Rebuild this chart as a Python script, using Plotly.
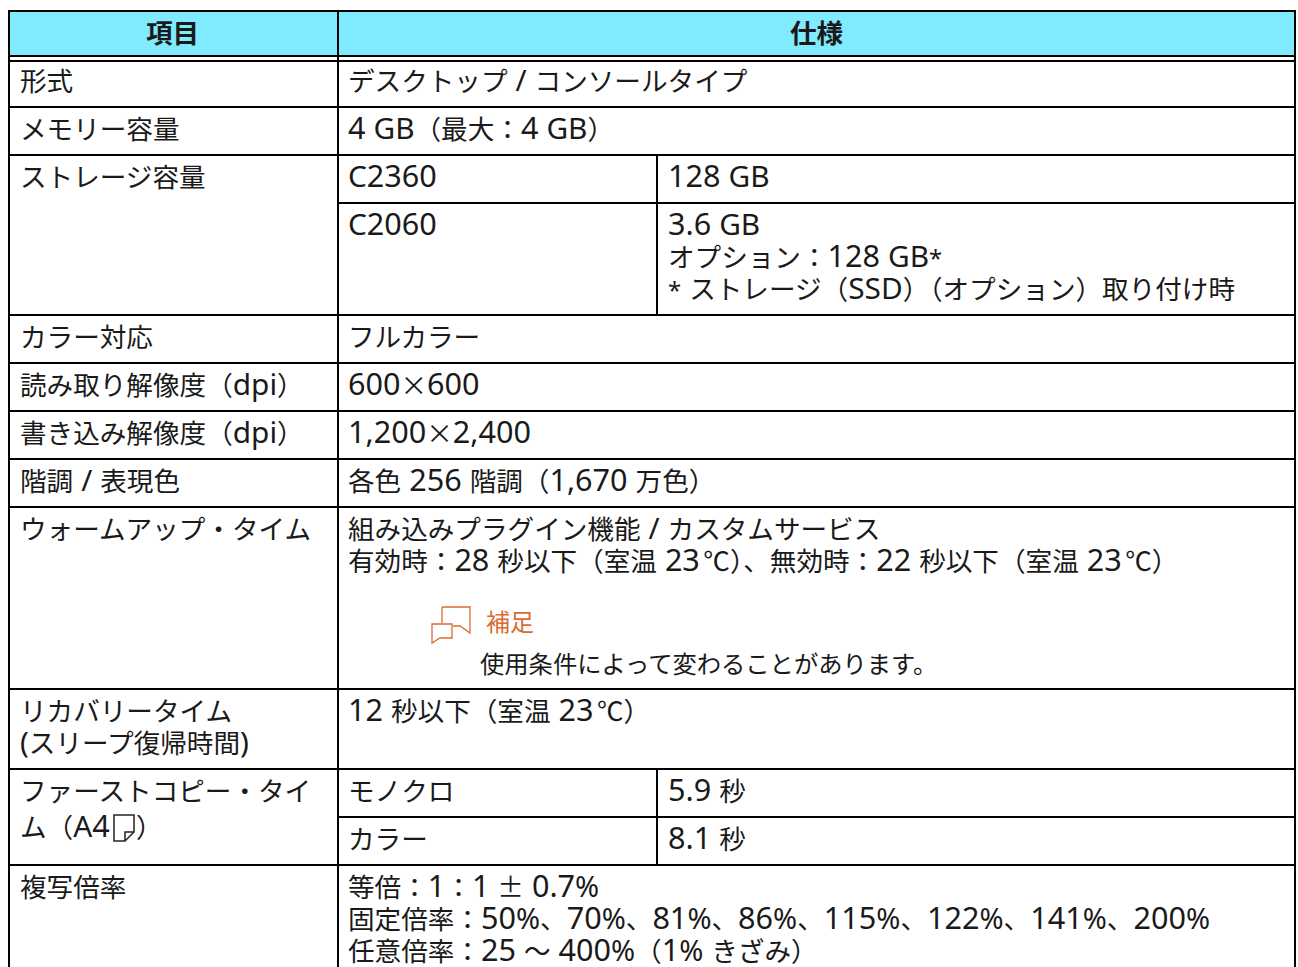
import re
import plotly.graph_objects as go

header_labels = ["項目", "仕様"]
item_labels = [
    ["形式"], ["メモリー容量"], ["ストレージ容量"], ["カラー対応"],
    ["読み取り解像度（dpi）"], ["書き込み解像度（dpi）"], ["階調 / 表現色"],
    ["ウォームアップ・タイム"], ["リカバリータイム", "(スリープ復帰時間)"],
    ["ファーストコピー・タイ"], ["ム（A4"], ["複写倍率"],
]
item_tops = [81, 129, 177, 337, 385, 433, 481, 529, 711, 791, 827, 887]
page_suffix = "）"
spec_labels = [
    ["デスクトップ / コンソールタイプ"], ["4 GB（最大：4 GB）"], ["フルカラー"],
    ["600×600"], ["1,200×2,400"], ["各色 256 階調（1,670 万色）"],
    ["組み込みプラグイン機能 / カスタムサービス", "有効時：28 秒以下（室温 23 ℃）、無効時：22 秒以下（室温 23 ℃）"],
    ["12 秒以下（室温 23 ℃）"],
    ["等倍：1：1 ± 0.7%", "固定倍率：50%、70%、81%、86%、115%、122%、141%、200%", "任意倍率：25 ～ 400%（1% きざみ）"],
]
spec_tops = [81, 129, 337, 385, 433, 481, 529, 711, 887]
sub_labels = [["C2360"], ["C2060"], ["モノクロ"], ["カラー"]]
sub_tops = [177, 225, 791, 839]
value_labels = [["128 GB"], ["3.6 GB", "オプション：128 GB*", "* ストレージ（SSD）（オプション）取り付け時"], ["5.9 秒"], ["8.1 秒"]]
note_title = "補足"
note_body = "使用条件によって変わることがあります。"

FONT = "'Noto Sans CJK JP'"
SIZE = 26.6
LINE = 32
DY = -2
INK = "#1a1a1a"
ORANGE = "#DB6A33"
L, M, S, R = 9, 338, 657, 1295
T = 11
RUNS = [(re.compile(r"[0-9,.]+"), 1.15), (re.compile(r"%+"), 1.09), (re.compile(r"[()]+"), 1.11),
        (re.compile(r"\*+"), 0.9), (re.compile(r" +"), 1.15), (re.compile(r"[A-Za-z/]+"), 1.12)]
TOKEN = re.compile(r"[0-9,.]+|%+|[()]+|\*+| +|[A-Za-z/]+")

def latin(s, size):
    def wrap(m):
        tok = m.group(0)
        ratio = next(r for rx, r in RUNS if rx.fullmatch(tok))
        if tok == " " and m.string[m.end():m.end() + 1] == "℃":
            ratio = 0.5
        return f"<span style=\"font-family:'Noto Sans';font-size:{size * ratio:.1f}px\">{tok}</span>"
    return TOKEN.sub(wrap, s)

shapes, anns = [], []
def line(x0, y0, x1, y1, w=2, c="#000000"):
    shapes.append(dict(type="line", xref="x", yref="y", x0=x0, y0=y0, x1=x1, y1=y1, line=dict(color=c, width=w)))
def text(x, y, s, color=INK, size=SIZE, anchor="left", bold=False):
    s = latin(s, size)
    if bold:
        s = f"<b>{s}</b>"
    anns.append(dict(x=x, y=y + DY, xref="x", yref="y", text=s, showarrow=False, xanchor=anchor, yanchor="middle",
                     align="left", font=dict(family=FONT, size=size, color=color), borderpad=0))
def block(x, top, rows):
    for i, r in enumerate(rows):
        text(x, top + i * LINE, r)

shapes.append(dict(type="rect", xref="x", yref="y", x0=L, x1=R, y0=T, y1=55, fillcolor="#80EBFF", line=dict(width=0), layer="below"))
for y in [T, 56, 61, 107, 155, 315, 363, 411, 459, 507, 689, 769, 865]:
    line(L - 1, y, R + 1, y)
for y in [203, 817]:
    line(M, y, R, y)
for x in [L, M, R]:
    line(x, T, x, 967)
line(S, 155, S, 315)
line(S, 769, S, 865)

text((L + M) / 2 - 1, 33, header_labels[0], anchor="center", bold=True)
text((M + R) / 2, 33, header_labels[1], anchor="center", bold=True)
for rows, top in zip(item_labels, item_tops):
    block(18.5, top, rows)
for rows, top in zip(spec_labels, spec_tops):
    block(347, top, rows)
for rows, top in zip(sub_labels, sub_tops):
    block(347, top, rows)
for rows, top in zip(value_labels, [177, 225, 791, 839]):
    block(667, top, rows)
text(135, 827, page_suffix)
text(485, 622, note_title, color=ORANGE, size=24)
text(479, 664, note_body, size=24.3)

# page icon
shapes.append(dict(type="path", path="M 114 815 H 134 V 832 L 125 841 H 114 Z M 134 832 H 125 V 841", line=dict(color="#2A2020", width=1.5)))
# note icon
shapes.append(dict(type="path", path="M 442 607 H 470 V 633 L 460 626 H 453 M 442 607 V 623", line=dict(color=ORANGE, width=1.3)))
shapes.append(dict(type="path", path="M 432 624 H 452 V 638 H 440 L 432 643 Z", line=dict(color=ORANGE, width=1.3)))
shapes.append(dict(type="path", path="M 455 616 h 1.5 M 458 616 h 1.5 M 461 616 h 1.5", line=dict(color=ORANGE, width=1.3)))

fig = go.Figure()
fig.update_layout(width=1298, height=967, margin=dict(l=0, r=0, t=0, b=0), paper_bgcolor="white", plot_bgcolor="white",
                  xaxis=dict(range=[0, 1298], visible=False, fixedrange=True),
                  yaxis=dict(range=[967, 0], visible=False, fixedrange=True),
                  shapes=shapes, annotations=anns, showlegend=False)
fig.write_html("out.html", config=dict(displayModeBar=False),
               post_script="document.body.style.margin='0';document.body.style.overflow='hidden';")
